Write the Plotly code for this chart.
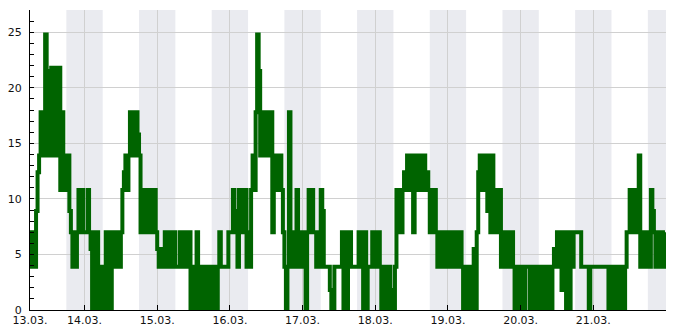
import pandas as pd
import plotly.graph_objects as go

# tick labels (dates), first label marks the start of the record
date_labels = ["13.03.", "14.03.", "15.03.", "16.03.", "17.03.", "18.03.", "19.03.", "20.03.", "21.03."]

# readings every 30 minutes; 13.03. starts at 06:00, other days at 00:00
d13 = [7, 3.9, 7, 3.9, 8.9, 12.4, 13.9, 17.8, 13.9, 17.8, 24.8, 13.9, 21.5, 13.9, 21.8, 13.9, 17.8, 21.8,
       13.9, 21.8, 10.8, 17.8, 10.8, 13.9, 10.8, 13.9, 8.9, 7, 3.9, 7, 3.9, 7, 10.8, 7, 10.8, 7]
d14 = [7, 7, 10.8, 7, 5.5, 0, 7, 0, 7, 0, 3.9, 0, 3.9, 0, 7, 0, 7, 0, 7, 3.9, 7, 3.9, 7, 3.9,
       7, 10.8, 12.4, 13.9, 10.8, 13.9, 17.8, 13.9, 17.8, 13.9, 17.8, 15.8, 13.9, 7, 10.8, 7, 10.8, 7, 10.8, 7, 10.8, 7, 10.8, 7]
d15 = [5.5, 3.9, 5.5, 3.9, 3.9, 7, 3.9, 7, 3.9, 7, 3.9, 7, 3.9, 3.9, 3.9, 7, 3.9, 7, 3.9, 7, 3.9, 7, 0, 3.9,
       0, 3.9, 7, 0, 3.9, 0, 3.9, 0, 3.9, 0, 3.9, 0, 3.9, 0, 3.9, 0, 3.9, 7, 3.9, 3.9, 3.9, 3.9, 3.9, 7]
d16 = [7, 7, 10.8, 8.9, 7, 3.9, 10.8, 7, 10.8, 7, 10.8, 3.9, 7, 3.9, 10.8, 13.9, 10.8, 17.8, 24.8, 21.5, 13.9, 17.8, 13.9, 17.8,
       13.9, 17.8, 13.9, 17.8, 7, 13.9, 10.8, 13.9, 10.8, 13.9, 10.8, 7, 3.9, 0, 3.9, 17.8, 3.9, 7, 3.9, 7, 10.8, 3.9, 7, 3.9]
d17 = [7, 3.9, 0, 7, 10.8, 7, 10.8, 7, 7, 3.9, 7, 3.9, 10.8, 8.9, 3.9, 3.9, 3.9, 3.9, 1.8, 0, 0, 3.9, 3.9, 3.9,
       3.9, 3.9, 7, 0, 7, 0, 7, 7, 3.9, 3.9, 3.9, 3.9, 3.9, 7, 3.9, 7, 0, 7, 0, 3.9, 3.9, 3.9, 7, 3.9]
d18 = [7, 3.9, 7, 3.9, 0, 3.9, 0, 3.9, 0, 3.9, 0, 1.8, 0, 3.9, 10.8, 7, 10.8, 7, 10.8, 12.4, 10.8, 13.9, 10.8, 13.9,
       10.8, 7, 13.9, 10.8, 13.9, 10.8, 13.9, 10.8, 13.9, 10.8, 12.4, 10.8, 7, 10.8, 7, 10.8, 7, 3.9, 7, 3.9, 7, 3.9, 7, 3.9]
d19 = [7, 3.9, 7, 3.9, 7, 3.9, 7, 3.9, 7, 3.9, 0, 3.9, 0, 3.9, 0, 3.9, 0, 5.5, 0, 7, 12.4, 13.9, 10.8, 13.9,
       10.8, 13.9, 8.9, 13.9, 7, 13.9, 10.8, 7, 10.8, 7, 10.8, 3.9, 7, 3.9, 7, 3.9, 7, 3.9, 7, 3.9, 0, 3.9, 0, 3.9]
d20 = [0, 3.9, 0, 3.9, 3.9, 3.9, 0, 3.9, 0, 3.9, 0, 3.9, 0, 3.9, 0, 3.9, 0, 3.9, 0, 3.9, 0, 3.9, 5.5, 3.9,
       7, 3.9, 7, 1.8, 7, 3.9, 0, 7, 0, 7, 3.9, 7, 7, 7, 7, 7, 3.9, 3.9, 3.9, 3.9, 3.9, 0, 3.9, 3.9]
d21 = [3.9, 3.9, 3.9, 3.9, 3.9, 3.9, 3.9, 3.9, 3.9, 3.9, 0, 3.9, 0, 3.9, 0, 3.9, 0, 3.9, 0, 3.9, 0, 3.9, 7, 7,
       10.8, 7, 10.8, 7, 7, 10.8, 13.9, 3.9, 7, 3.9, 7, 3.9, 7, 3.9, 10.8, 8.9, 7, 3.9, 7, 3.9, 7, 7, 3.9, 7]

values = d13 + d14 + d15 + d16 + d17 + d18 + d19 + d20 + d21
start = pd.Timestamp("2024-03-13 06:00")
end = pd.Timestamp("2024-03-22 00:00")
times = pd.date_range(start, periods=len(values), freq="30min")

midnights = pd.date_range("2024-03-14", "2024-03-21", freq="D")
tickvals = [start] + list(midnights)

fig = go.Figure()
fig.add_trace(go.Scatter(x=times, y=values, mode="lines",
                         line=dict(color="#006400", width=4, shape="hv"),
                         hoverinfo="skip", showlegend=False))

# night shading 18:00 - 06:00
shapes = []
for d in pd.date_range("2024-03-13", "2024-03-21", freq="D"):
    x0 = d + pd.Timedelta(hours=18)
    x1 = min(d + pd.Timedelta(hours=30), end)
    shapes.append(dict(type="rect", xref="x", yref="paper", x0=x0, x1=x1, y0=0, y1=1,
                       fillcolor="#eaebf0", line=dict(width=0), layer="below"))

fig.update_layout(
    width=685, height=330,
    margin=dict(l=30, r=19, t=10, b=20),
    paper_bgcolor="white", plot_bgcolor="white",
    shapes=shapes,
    font=dict(family="DejaVu Sans", size=11, color="#111111"),
)
fig.update_xaxes(range=[start, end], tickvals=tickvals, ticktext=date_labels, automargin=False,
                 showgrid=True, gridcolor="#d0d0d0", gridwidth=1,
                 showline=True, linecolor="black", linewidth=1,
                 ticks="inside", ticklen=5, tickcolor="black", zeroline=False,
                 ticklabelstandoff=0)
fig.update_yaxes(range=[0, 27], tickvals=[0, 5, 10, 15, 20, 25], automargin=False,
                 showgrid=True, gridcolor="#d0d0d0", gridwidth=1,
                 showline=True, linecolor="black", linewidth=1,
                 ticks="inside", ticklen=4, tickcolor="black", zeroline=False,
                 ticklabelstandoff=5,
                 minor=dict(dtick=1, ticks="inside", ticklen=4, tickcolor="black", showgrid=False))

fig.write_html("out.html")
